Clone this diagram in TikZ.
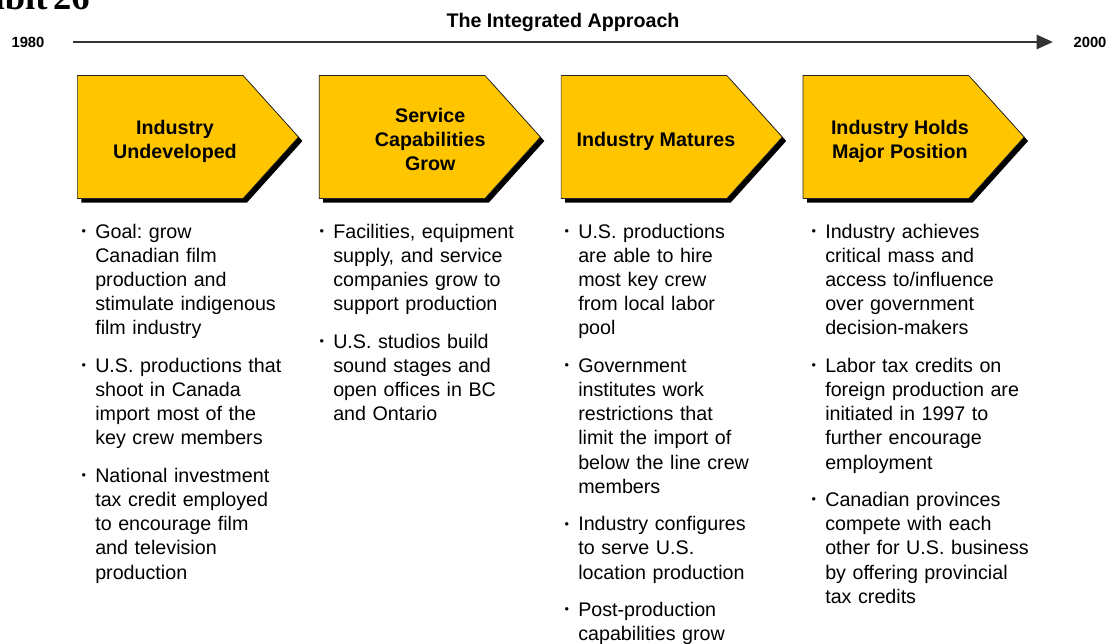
\documentclass[tikz,border=0pt]{standalone}
\usepackage{fontspec}
\setmainfont{Liberation Sans}
\newfontfamily\exhibitfont{Liberation Serif}
\usetikzlibrary{positioning,shapes.symbols,shadows,arrows.meta}

\definecolor{phasegold}{HTML}{FFC600}
\definecolor{lineGray}{HTML}{333333}

% small bullet hung in the left margin of a point
\newcommand{\bul}{\llap{\raisebox{.25ex}{\fontsize{9}{9}\selectfont\textbullet}\hspace{6.5pt}}}
% phase title, nudged right by #1 and a little down
\newcommand{\phasetext}[2][10pt]{\raisebox{-3.5pt}[\height][\depth]{%
  \begin{tabular}{@{\hspace{#1}}c@{\hspace{-#1}}}#2\end{tabular}}}

\frenchspacing

\tikzset{
  phasebox/.style={signal, signal to=east, signal pointer angle=96,
    minimum width=5.525cm, minimum height=3.075cm, inner sep=0pt,
    fill=phasegold, draw=black!85, line width=0.5pt,
    font=\fontsize{14}{17}\selectfont\bfseries,
    drop shadow={shadow xshift=0.1cm, shadow yshift=-0.1cm, fill=black, opacity=1}},
  bulletpt/.style={text width=5.6cm, align=left, inner sep=0pt, anchor=north west,
    font=\fontsize{14}{17.2}\selectfont},
  yearlabel/.style={font=\fontsize{10.5}{12}\selectfont\bfseries, inner sep=0pt},
}

\begin{document}
\begin{tikzpicture}[x=0.025cm, y=-0.025cm, node distance=0.5cm]
\useasboundingbox (0,0) rectangle (1112,644);
\clip (0,0) rectangle (1112,644);

% heading and time line
\node[anchor=base east, inner sep=0pt, font=\exhibitfont\bfseries\fontsize{26}{26}\selectfont] (exhibit) at (90,10) {Exhibit\hspace{4pt}26};
\node[anchor=base, inner sep=0pt, font=\fontsize{14}{17}\selectfont\bfseries] (title) at (563,28) {The Integrated Approach};
\node[yearlabel] (start) at (28,42) {1980};
\node[yearlabel] (end) at (1090,42) {2000};
\draw[line width=1.6pt, lineGray, -{Triangle[length=11.5pt,width=10pt]},
  shorten <=20pt, shorten >=14.5pt] (start) -- (end);

% the four phases
\node[phasebox, anchor=west] (p1) at (77,137) {\phasetext[10.5pt]{Industry\\Undeveloped}};
\node[phasebox, right=of p1] (p2) {\phasetext[20pt]{Service\\Capabilities\\Grow}};
\node[phasebox, right=of p2] (p3) {\phasetext[8.5pt]{Industry Matures}};
\node[phasebox, right=of p3] (p4) {\phasetext[10pt]{Industry Holds\\Major Position}};

% points under each phase
\node[bulletpt] (a1) at (95,221) {\bul\strut Goal: grow\\Canadian film\\production and\\stimulate indigenous\\film industry\strut};
\node[bulletpt, below=9pt of a1] (a2) {\bul\strut U.S. productions that\\shoot in Canada\\import most of the\\key crew members\strut};
\node[bulletpt, below=9pt of a2] (a3) {\bul\strut National investment\\tax credit employed\\to encourage film\\and television\\production\strut};

\node[bulletpt] (b1) at (333,221) {\bul\strut Facilities, equipment\\supply, and service\\companies grow to\\support production\strut};
\node[bulletpt, below=9pt of b1] (b2) {\bul\strut U.S. studios build\\sound stages and\\open offices in BC\\and Ontario\strut};

\node[bulletpt] (c1) at (578,221) {\bul\strut U.S. productions\\are able to hire\\most key crew\\from local labor\\pool\strut};
\node[bulletpt, below=9pt of c1] (c2) {\bul\strut Government\\institutes work\\restrictions that\\limit the import of\\below the line crew\\members\strut};
\node[bulletpt, below=9pt of c2] (c3) {\bul\strut Industry configures\\to serve U.S.\\location production\strut};
\node[bulletpt, below=9pt of c3] (c4) {\bul\strut Post-production\\capabilities grow\strut};

\node[bulletpt] (d1) at (825,221) {\bul\strut Industry achieves\\critical mass and\\access to/influence\\over government\\decision-makers\strut};
\node[bulletpt, below=9pt of d1] (d2) {\bul\strut Labor tax credits on\\foreign production are\\initiated in 1997 to\\further encourage\\employment\strut};
\node[bulletpt, below=9pt of d2] (d3) {\bul\strut Canadian provinces\\compete with each\\other for U.S. business\\by offering provincial\\tax credits\strut};
\end{tikzpicture}
\end{document}
